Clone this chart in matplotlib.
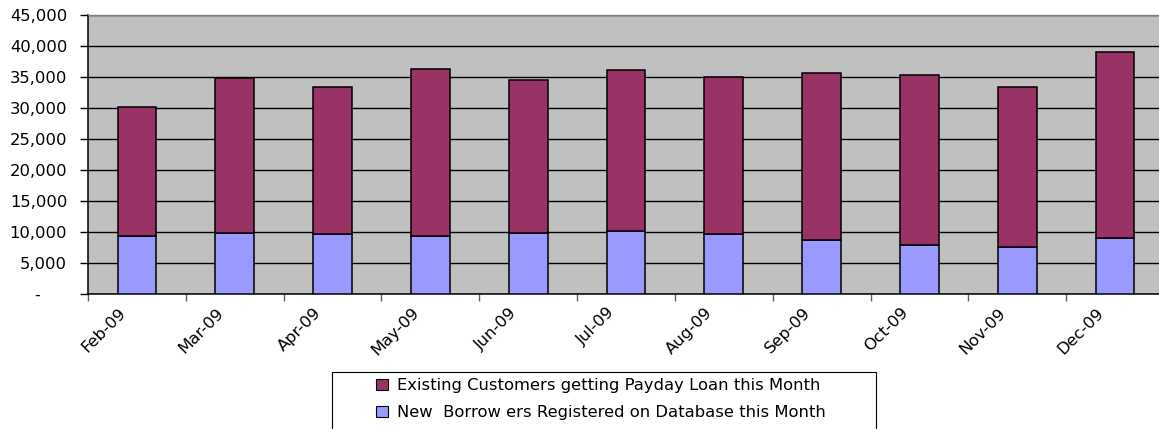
import matplotlib
matplotlib.use("Agg")
import matplotlib.pyplot as plt
import matplotlib.transforms as mtransforms
from matplotlib.patches import Rectangle, Patch
from matplotlib.ticker import FixedLocator, FuncFormatter
import numpy as np

months = ['Feb-09', 'Mar-09', 'Apr-09', 'May-09', 'Jun-09', 'Jul-09',
          'Aug-09', 'Sep-09', 'Oct-09', 'Nov-09', 'Dec-09']
new_borrowers = [9350, 9830, 9610, 9340, 9830, 10150, 9610, 8650, 7890, 7620, 9070]
existing_customers = [20750, 24970, 23690, 26910, 24700, 25880, 25350, 26900, 27390, 25680, 29920]
series_labels = ['Existing Customers getting Payday Loan this Month',
                 'New  Borrow ers Registered on Database this Month']
y_ticks = [0, 5000, 10000, 15000, 20000, 25000, 30000, 35000, 40000, 45000]

W, H, DPI = 1159, 429, 100
fig = plt.figure(figsize=(W / DPI, H / DPI), dpi=DPI)
fig.patch.set_facecolor('white')

left_px, right_px, top_px, bot_px = 88, 1164, 14.7, 294
ax = fig.add_axes([left_px / W, 1 - bot_px / H, (right_px - left_px) / W, (bot_px - top_px) / H])
ax.set_facecolor('#C0C0C0')

x = np.arange(len(months))
purple = '#993366'
blue = '#9999FF'
ax.bar(x, new_borrowers, width=0.395, color=blue, edgecolor='black', linewidth=1.1, zorder=3)
ax.bar(x, existing_customers, bottom=new_borrowers, width=0.395, color=purple,
       edgecolor='black', linewidth=1.1, zorder=3)

ax.set_xlim(-0.5, len(months) - 0.5)
ax.set_ylim(0, 45000)

# y axis
ax.yaxis.set_major_locator(FixedLocator(y_ticks))
ax.yaxis.set_major_formatter(FuncFormatter(lambda v, p: '-     ' if v == 0 else f'{int(v):,}'))
ax.tick_params(axis='y', direction='out', length=6, width=1, color='black', pad=9,
               labelsize=11.8, labelcolor='black')
ax.yaxis.grid(True, color='black', linewidth=1.0, zorder=1)
ax.set_axisbelow(True)

# x axis: ticks at category boundaries, labels at centres
ax.xaxis.set_major_locator(FixedLocator(np.arange(-0.5, len(months), 1.0)))
ax.xaxis.set_major_formatter(FuncFormatter(lambda v, p: ''))
ax.xaxis.set_minor_locator(FixedLocator(x))
ax.set_xticks(x, months, minor=True)
ax.tick_params(axis='x', which='major', direction='out', length=5, width=1, color='#606060')
ax.tick_params(axis='x', which='minor', length=0, pad=8, labelsize=11.8)
offset = mtransforms.ScaledTranslation(-19 / DPI, 0, fig.dpi_scale_trans)
for lab in ax.xaxis.get_minorticklabels():
    lab.set_rotation(45)
    lab.set_ha('right')
    lab.set_va('top')
    lab.set_rotation_mode('anchor')
    lab.set_transform(lab.get_transform() + offset)

for side in ['left', 'bottom']:
    ax.spines[side].set_color('black')
    ax.spines[side].set_linewidth(1.1)
ax.spines['top'].set_color('#808080')
ax.spines['top'].set_linewidth(1.0)
ax.spines['right'].set_visible(False)

# legend frame and entries
fig.patches.append(Rectangle((332 / W, 1 - 440 / H), (876 - 332) / W, (440 - 371.7) / H,
                             transform=fig.transFigure, facecolor='white',
                             edgecolor='black', linewidth=0.8, zorder=0))
handles = [Patch(facecolor=purple, edgecolor='black', linewidth=0.8),
           Patch(facecolor=blue, edgecolor='black', linewidth=0.8)]
fig.legend(handles, series_labels, loc='upper left',
           bbox_to_anchor=(373 / W, 1 - 375 / H), frameon=False,
           fontsize=11.8, handlelength=0.7, handleheight=0.7, handletextpad=0.55,
           labelspacing=0.72, borderaxespad=0, borderpad=0.2)

fig.savefig('out.png', dpi=DPI)
